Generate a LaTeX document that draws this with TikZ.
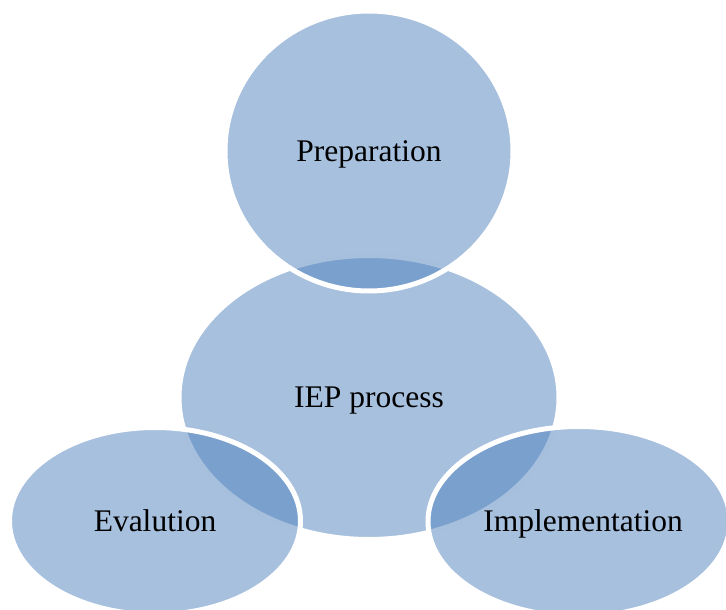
\documentclass[tikz,border=0pt]{standalone}
\usepackage{fontspec}
\setmainfont{Liberation Serif}
\usetikzlibrary{shapes.geometric}
\definecolor{accent}{RGB}{79,129,189}
\tikzset{
  blob/.style={ellipse, inner sep=0pt, fill=accent, fill opacity=0.5, draw=white, draw opacity=1, line width=5pt},
  lbl/.style={anchor=base, inner sep=0pt, font=\fontsize{31.5}{38}\selectfont, text=black}
}
\begin{document}
\begin{tikzpicture}[x=1pt, y=-1pt]
\useasboundingbox (0,0) rectangle (726,610);
\node[blob, minimum width=380pt, minimum height=284pt] (iep) at (369,397.5) {};
\node[blob, minimum width=288pt, minimum height=280pt] (prep) at (369,151) {};
\node[blob, minimum width=291pt, minimum height=187pt] (eval) at (155,521) {};
\node[blob, minimum width=302pt, minimum height=190pt] (impl) at (579,521.5) {};
\node[lbl] (tprep) at (369,161.7) {Preparation};
\node[lbl] (tiep) at (369,407) {IEP process};
\node[lbl] (teval) at (155,531.7) {Evalution};
\node[lbl] (timpl) at (583,531.7) {Implementation};
\end{tikzpicture}
\end{document}
